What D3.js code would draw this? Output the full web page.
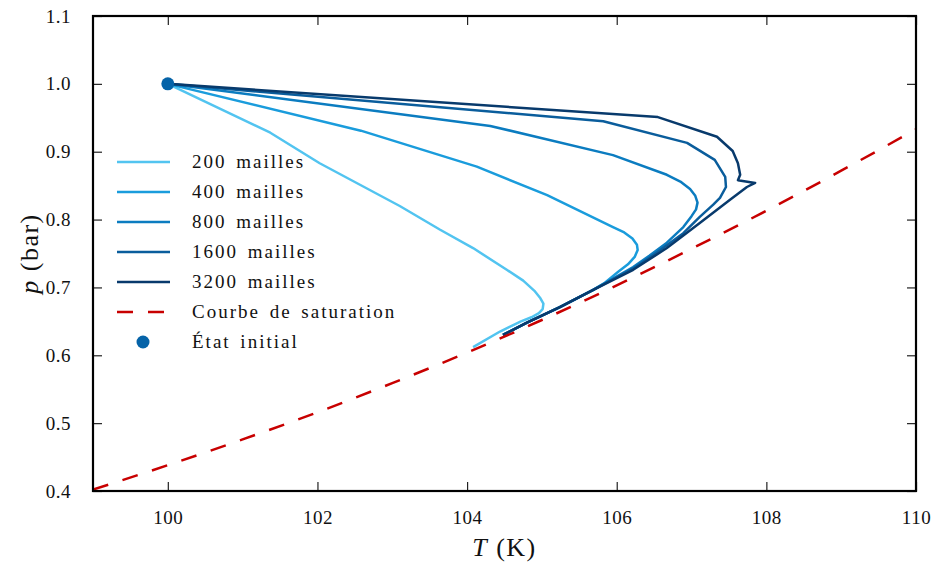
<!DOCTYPE html>
<html><head><meta charset="utf-8">
<script src="https://cdn.jsdelivr.net/npm/d3@7/dist/d3.min.js"></script>
<style>body{margin:0;background:#fff}svg{display:block}</style>
</head><body>
<svg id="chart" width="937" height="562"></svg>
<script>
// ---------- data ----------
const seriesNames = ["200 mailles", "400 mailles", "800 mailles", "1600 mailles", "3200 mailles"];

const T200 = [100.00, 101.37, 102.03, 103.10, 103.64, 104.08, 104.53, 104.75, 104.90, 104.98, 105.02, 105.01, 104.96, 104.86, 104.72, 104.44, 104.08];
const P200 = [1.000, 0.928, 0.883, 0.820, 0.785, 0.758, 0.726, 0.710, 0.695, 0.684, 0.676, 0.668, 0.662, 0.656, 0.650, 0.635, 0.612];

const T400 = [100.00, 102.58, 104.13, 105.07, 105.95, 106.10, 106.21, 106.27, 106.28, 106.24, 106.15, 106.02, 105.83, 105.68, 105.24, 104.80, 104.48];
const P400 = [1.000, 0.931, 0.878, 0.836, 0.789, 0.781, 0.772, 0.763, 0.755, 0.745, 0.734, 0.723, 0.706, 0.696, 0.671, 0.648, 0.630];

const T800 = [100.00, 104.31, 105.95, 106.67, 106.85, 106.98, 107.05, 107.08, 107.06, 107.00, 106.89, 106.67, 106.44, 106.22, 105.68, 105.24, 104.80, 104.48];
const P800 = [1.000, 0.938, 0.895, 0.866, 0.856, 0.845, 0.835, 0.825, 0.815, 0.805, 0.789, 0.766, 0.747, 0.730, 0.696, 0.671, 0.648, 0.630];

const T1600 = [100.00, 105.82, 106.94, 107.31, 107.45, 107.46, 107.38, 107.29, 107.11, 106.89, 106.67, 106.44, 106.22, 105.68, 105.24, 104.80, 104.48];
const P1600 = [1.000, 0.945, 0.913, 0.888, 0.863, 0.848, 0.832, 0.822, 0.804, 0.780, 0.762, 0.744, 0.728, 0.696, 0.671, 0.648, 0.630];

const T3200 = [100.00, 106.55, 107.34, 107.55, 107.62, 107.65, 107.62, 107.85, 107.74, 107.51, 107.11, 106.67, 106.22, 105.68, 105.24, 104.80, 104.48];
const P3200 = [1.000, 0.951, 0.922, 0.901, 0.883, 0.866, 0.858, 0.854, 0.848, 0.829, 0.795, 0.758, 0.726, 0.696, 0.671, 0.648, 0.630];

const satT = [99, 100, 101, 102, 103, 104, 105, 106, 107, 108, 109, 110];
const satP = [0.402, 0.438, 0.476, 0.516, 0.559, 0.604, 0.652, 0.703, 0.757, 0.813, 0.872, 0.933];

const initT = [100];
const initP = [1.0];

const xTicks = [100, 102, 104, 106, 108, 110];
const yTicks = [0.4, 0.5, 0.6, 0.7, 0.8, 0.9, 1.0, 1.1];

const seriesColors = ["#52c4f0", "#1a9cdc", "#0b7cc0", "#0a5d9c", "#083a6c"];
const satColor = "#c80000";
const markerColor = "#0563a8";

// ---------- layout ----------
const W = 937, H = 562;
const m = {left: 93, top: 16, right: 937 - 916, bottom: 562 - 491};
const iw = W - m.left - m.right, ih = H - m.top - m.bottom;
const FONT = "'Liberation Serif', 'Times New Roman', serif";

const svg = d3.select("#chart");
const x = d3.scaleLinear().domain([99, 110]).range([m.left, m.left + iw]);
const y = d3.scaleLinear().domain([0.4, 1.1]).range([m.top + ih, m.top]);

svg.append("defs").append("clipPath").attr("id", "clip")
  .append("rect").attr("x", m.left).attr("y", m.top).attr("width", iw).attr("height", ih);

const plot = svg.append("g").attr("clip-path", "url(#clip)");

const series = [
  [T200, P200], [T400, P400], [T800, P800], [T1600, P1600], [T3200, P3200]
];

series.forEach(([ts, ps], i) => {
  const pts = ts.map((t, k) => [t, ps[k]]);
  plot.append("path")
    .attr("d", d3.line().x(d => x(d[0])).y(d => y(d[1])).curve(d3.curveLinear)(pts))
    .attr("fill", "none").attr("stroke", seriesColors[i])
    .attr("stroke-width", 2.5).attr("stroke-linejoin", "round").attr("stroke-linecap", "butt");
});

const satPts = satT.map((t, k) => [t, satP[k]]);
plot.append("path")
  .attr("d", d3.line().x(d => x(d[0])).y(d => y(d[1])).curve(d3.curveMonotoneX)(satPts))
  .attr("fill", "none").attr("stroke", satColor).attr("stroke-width", 2.5)
  .attr("stroke-dasharray", "16,15");

svg.append("g").selectAll("circle").data(initT.map((t, k) => [t, initP[k]])).join("circle")
  .attr("cx", d => x(d[0])).attr("cy", d => y(d[1])).attr("r", 6.5).attr("fill", markerColor);

// ---------- axes (ticks inward, all sides) ----------
const tickLen = 9;
const axB = svg.append("g").attr("transform", `translate(0,${m.top + ih})`)
  .call(d3.axisBottom(x).tickValues(xTicks).tickSizeInner(-tickLen).tickSizeOuter(0).tickPadding(20).tickFormat(d3.format("d")));
const axT = svg.append("g").attr("transform", `translate(0,${m.top})`)
  .call(d3.axisTop(x).tickValues(xTicks).tickSizeInner(-tickLen).tickSizeOuter(0).tickFormat(""));
const axL = svg.append("g").attr("transform", `translate(${m.left},0)`)
  .call(d3.axisLeft(y).tickValues(yTicks).tickSizeInner(-tickLen).tickSizeOuter(0).tickPadding(22).tickFormat(d3.format(".1f")));
const axR = svg.append("g").attr("transform", `translate(${m.left + iw},0)`)
  .call(d3.axisRight(y).tickValues(yTicks).tickSizeInner(-tickLen).tickSizeOuter(0).tickFormat(""));
[axB, axT, axL, axR].forEach(a => {
  a.select(".domain").remove();
  a.selectAll(".tick line").attr("stroke", "#222").attr("stroke-width", 1.2);
  a.selectAll("text").attr("font-family", FONT).attr("font-size", 19).attr("fill", "#111")
    .attr("letter-spacing", 0.5);
});

svg.append("rect").attr("x", m.left).attr("y", m.top).attr("width", iw).attr("height", ih)
  .attr("fill", "none").attr("stroke", "#000").attr("stroke-width", 2.2);

// axis titles
const xt = svg.append("text").attr("x", x(104.5)).attr("y", 556).attr("text-anchor", "middle")
  .attr("font-family", FONT).attr("font-size", 26).attr("fill", "#111").attr("letter-spacing", 1.5);
xt.append("tspan").attr("font-style", "italic").text("T");
xt.append("tspan").text(" (K)");

const yt = svg.append("text").attr("transform", `translate(38,${y(0.75)}) rotate(-90)`)
  .attr("text-anchor", "middle").attr("font-family", FONT).attr("font-size", 26).attr("fill", "#111")
  .attr("letter-spacing", 1.5);
yt.append("tspan").attr("font-style", "italic").text("p");
yt.append("tspan").text(" (bar)");

// ---------- legend ----------
const leg = svg.append("g");
const rowY = i => 162 + 30 * i;
seriesNames.forEach((name, i) => {
  leg.append("line").attr("x1", 117).attr("x2", 170).attr("y1", rowY(i)).attr("y2", rowY(i))
    .attr("stroke", seriesColors[i]).attr("stroke-width", 2.5);
  leg.append("text").attr("x", 192).attr("y", rowY(i) + 6).text(name);
});
leg.append("line").attr("x1", 117).attr("x2", 170).attr("y1", rowY(5)).attr("y2", rowY(5))
  .attr("stroke", satColor).attr("stroke-width", 2.5).attr("stroke-dasharray", "16,15");
leg.append("text").attr("x", 192).attr("y", rowY(5) + 6).text("Courbe de saturation");
leg.append("circle").attr("cx", 143).attr("cy", rowY(6)).attr("r", 6.5).attr("fill", markerColor);
leg.append("text").attr("x", 192).attr("y", rowY(6) + 6).text("État initial");
leg.selectAll("text").attr("font-family", FONT).attr("font-size", 19).attr("fill", "#111")
  .attr("letter-spacing", 2.0).attr("word-spacing", 3);
</script>
</body></html>
